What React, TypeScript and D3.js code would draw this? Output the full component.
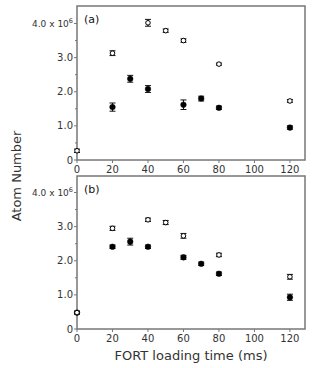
import React from 'react'
import * as d3 from 'd3'

// loading times (ms)
const timesOpenA = [0, 20, 40, 50, 60, 80, 120]
const openA = [0.27, 3.13, 4.02, 3.79, 3.5, 2.81, 1.73]
const openErrA = [0.05, 0.07, 0.1, 0.05, 0.05, 0.03, 0.04]
const timesFilledA = [20, 30, 40, 60, 70, 80, 120]
const filledA = [1.55, 2.38, 2.08, 1.62, 1.8, 1.53, 0.95]
const filledErrA = [0.12, 0.1, 0.1, 0.14, 0.07, 0.05, 0.05]

const timesOpenB = [0, 20, 40, 50, 60, 80, 120]
const openB = [0.48, 2.95, 3.2, 3.12, 2.73, 2.17, 1.53]
const openErrB = [0.04, 0.06, 0.05, 0.06, 0.07, 0.05, 0.07]
const timesFilledB = [0, 20, 30, 40, 60, 70, 80, 120]
const filledB = [0.48, 2.41, 2.56, 2.41, 2.1, 1.91, 1.62, 0.93]
const filledErrB = [0.04, 0.05, 0.1, 0.05, 0.06, 0.05, 0.05, 0.09]

const xTicks = [0, 20, 40, 60, 80, 100, 120]
const yTicks = [0, 1, 2, 3, 4]
const yTickLabels = ['0', '1.0', '2.0', '3.0', '4.0']

const W = 314, H = 368
const left = 77, right = 305
const font = 'DejaVu Sans, sans-serif'
const textColor = '#333'
const frameColor = '#777'

type PanelProps = {
  top: number
  bottom: number
  label: string
  tOpen: number[]; vOpen: number[]; eOpen: number[]
  tFilled: number[]; vFilled: number[]; eFilled: number[]
}

const Panel = ({ top, bottom, label, tOpen, vOpen, eOpen, tFilled, vFilled, eFilled }: PanelProps) => {
  const x = d3.scaleLinear().domain([0, 128.5]).range([left, right])
  const y = d3.scaleLinear().domain([0, 4]).range([bottom, bottom - 136.5])
  const minor = d3.range(0.5, 4.5, 1)

  const series = (ts: number[], vs: number[], es: number[], filled: boolean) =>
    ts.map((t, i) => {
      const cx = x(t), cy = y(vs[i])
      const y0 = y(vs[i] - es[i]), y1 = y(vs[i] + es[i])
      return (
        <g key={(filled ? 'f' : 'o') + i}>
          <line x1={cx} x2={cx} y1={y0} y2={y1} stroke="#111" strokeWidth={1} />
          <line x1={cx - 3} x2={cx + 3} y1={y0} y2={y0} stroke="#111" strokeWidth={1} />
          <line x1={cx - 3} x2={cx + 3} y1={y1} y2={y1} stroke="#111" strokeWidth={1} />
          <circle cx={cx} cy={cy} r={filled ? 2.8 : 2.3} fill={filled ? '#000' : '#fff'}
            stroke="#000" strokeWidth={filled ? 0.5 : 1} />
        </g>
      )
    })

  return (
    <g>
      <rect x={left} y={top} width={right - left} height={bottom - top} fill="none"
        stroke={frameColor} strokeWidth={1.5} />
      {yTicks.map((v, i) => (
        <g key={'y' + v}>
          <line x1={left - 3} x2={left} y1={y(v)} y2={y(v)} stroke={frameColor} />
          <text x={left - 4} y={y(v)} dy="0.35em" textAnchor="end" fontSize={v === 4 ? 9 : 10}
            fontFamily={font} fill={textColor}>
            {v === 4 ? <>4.0 x 10<tspan fontSize={6.5} dy="-0.6em">6</tspan></> : yTickLabels[i]}
          </text>
        </g>
      ))}
      {minor.map(v => (
        <line key={'m' + v} x1={left - 2} x2={left} y1={y(v)} y2={y(v)} stroke={frameColor} />
      ))}
      {xTicks.map(t => (
        <g key={'x' + t}>
          <line x1={x(t)} x2={x(t)} y1={bottom} y2={bottom + 3} stroke={frameColor} />
          <text x={x(t)} y={bottom + 12.5} textAnchor="middle" fontSize={10}
            fontFamily={font} fill={textColor}>{t}</text>
        </g>
      ))}
      <text x={left + 7} y={top + 17} fontSize={11} fontFamily={font} fill="#111">{label}</text>
      {series(tFilled, vFilled, eFilled, true)}
      {series(tOpen, vOpen, eOpen, false)}
    </g>
  )
}

const App = () => (
  <svg width={W} height={H} style={{ position: 'absolute', left: 0, top: 0, background: '#fff' }}>
    <Panel top={6} bottom={160} label="(a)"
      tOpen={timesOpenA} vOpen={openA} eOpen={openErrA}
      tFilled={timesFilledA} vFilled={filledA} eFilled={filledErrA} />
    <Panel top={176} bottom={329} label="(b)"
      tOpen={timesOpenB} vOpen={openB} eOpen={openErrB}
      tFilled={timesFilledB} vFilled={filledB} eFilled={filledErrB} />
    <text transform="translate(21,176) rotate(-90)" textAnchor="middle" fontSize={13}
      fontFamily={font} fill={textColor}>Atom Number</text>
    <text x={191} y={360} textAnchor="middle" fontSize={13} fontFamily={font}
      fill={textColor}>FORT loading time (ms)</text>
  </svg>
)

export default App
